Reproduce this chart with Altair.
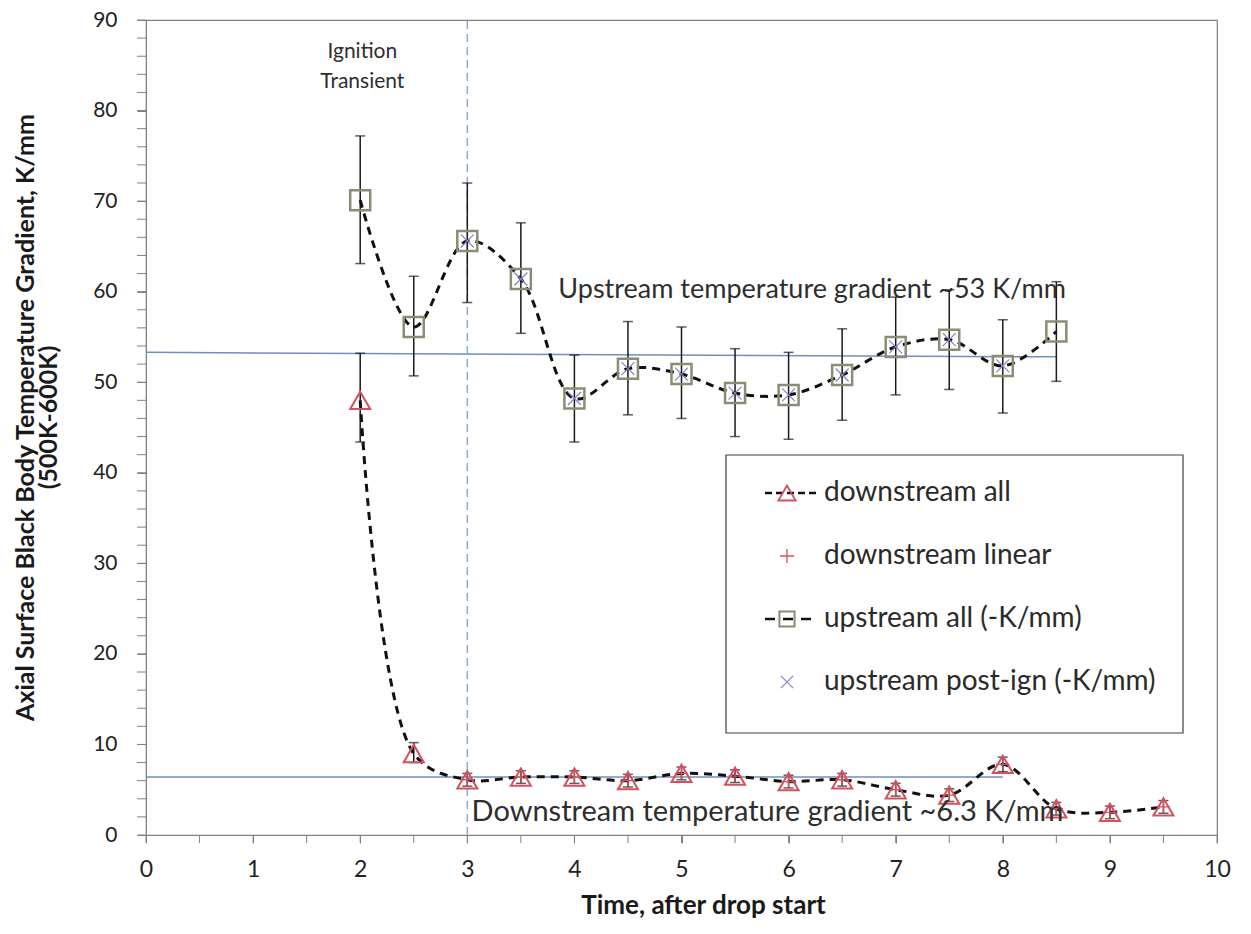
import altair as alt
import pandas as pd

# ---------------- data ----------------
up_x = [2, 2.5, 3, 3.5, 4, 4.5, 5, 5.5, 6, 6.5, 7, 7.5, 8, 8.5]
up_y = [70.1, 56.1, 65.6, 61.4, 48.2, 51.5, 50.9, 48.8, 48.6, 50.8, 53.9, 54.7, 51.8, 55.6]
up_lo = [63.1, 50.7, 58.8, 55.4, 43.4, 46.4, 46.0, 44.0, 43.7, 45.8, 48.6, 49.2, 46.6, 50.1]
up_hi = [77.2, 61.7, 72.0, 67.6, 53.0, 56.7, 56.1, 53.7, 53.3, 55.9, 59.4, 60.2, 56.9, 61.1]

post_x = [3, 3.5, 4, 4.5, 5, 5.5, 6, 6.5, 7, 7.5, 8]
post_y = [65.6, 61.4, 48.2, 51.5, 50.9, 48.8, 48.6, 50.8, 53.9, 54.7, 51.8]

dn_x = [2, 2.5, 3, 3.5, 4, 4.5, 5, 5.5, 6, 6.5, 7, 7.5, 8, 8.5, 9, 9.5]
dn_y = [48.0, 9.0, 6.1, 6.4, 6.4, 6.0, 6.8, 6.5, 5.9, 6.1, 5.0, 4.4, 7.8, 2.9, 2.5, 3.1]
dn_lo = [43.4, 8.0, 5.4, 5.7, 5.7, 5.3, 6.1, 5.8, 5.2, 5.4, 4.3, 3.7, 7.0, 2.2, 1.8, 2.4]
dn_hi = [53.2, 10.2, 6.8, 7.1, 7.1, 6.7, 7.5, 7.2, 6.6, 6.8, 5.7, 5.1, 8.6, 3.6, 3.2, 3.8]

lin_x = [3, 3.5, 4, 4.5, 5, 5.5, 6, 6.5, 7, 7.5, 8, 8.5, 9, 9.5]
lin_y = [6.1, 6.4, 6.4, 6.0, 6.8, 6.5, 5.9, 6.1, 5.0, 4.4, 7.8, 2.9, 2.5, 3.1]

ref_up_x = [0, 8.5]
ref_up_y = [53.3, 52.8]
ref_dn_x = [0, 8.0]
ref_dn_y = [6.4, 6.4]
ign_x = 3

x_major = list(range(0, 11))
x_minor = [i * 0.5 for i in range(21)]
y_major = list(range(0, 91, 10))
y_minor = list(range(0, 91, 2))

legend_labels = ["downstream all", "downstream linear", "upstream all (-K/mm)", "upstream post-ign (-K/mm)"]

ann_text = ["Ignition\nTransient", "Upstream temperature  gradient ~53 K/mm",
            "Downstream temperature  gradient ~6.3 K/mm"]
ann_x = [2.02, 3.85, 3.04]
ann_y = [86.5, 60.2, 2.5]
ann_align = ["center", "left", "left"]
ann_size = [21, 27, 29]

# ---------------- styles ----------------
FONT = "Lato"
RED = "#d4505e"
OLIVE = "#8c8c74"
XBLUE = "#8185c8"
REFBLUE = "#6e8fc2"
AXC = "#808080"
PLUS_PATH = "M-1,0L1,0M0,-1L0,1"
X_PATH = "M-1,-1L1,1M-1,1L1,-1"

up = pd.DataFrame({"x": up_x, "y": up_y, "lo": up_lo, "hi": up_hi})
dn = pd.DataFrame({"x": dn_x, "y": dn_y, "lo": dn_lo, "hi": dn_hi})
post = pd.DataFrame({"x": post_x, "y": post_y})
lin = pd.DataFrame({"x": lin_x, "y": lin_y})
refs = pd.DataFrame({
    "x": ref_up_x + ref_dn_x,
    "y": ref_up_y + ref_dn_y,
    "s": ["up", "up", "dn", "dn"],
})
lines = pd.concat([up.assign(s="up"), dn.assign(s="dn")])
errs = pd.concat([up, dn])
ann = pd.DataFrame({"t": ann_text, "x": ann_x, "y": ann_y, "a": ann_align})

xs = alt.Scale(domain=[0, 10], nice=False, zero=False)
ys = alt.Scale(domain=[0, 90], nice=False)

X = alt.X("x:Q", scale=xs, axis=alt.Axis(
    values=x_major, format="d",
    title="Time, after drop start", titleFont=FONT, titleFontSize=26, titleFontWeight="bold",
    titleColor="#1a1a1a", titleBaseline="middle", titleY=70, titleX=557,
    labelFont=FONT, labelFontSize=23, labelColor="#222", labelPadding=15,
    tickSize=8, tickColor=AXC, domainColor=AXC, grid=False,
    labelFlush=False, labelOverlap=False))
Y = alt.Y("y:Q", scale=ys, axis=alt.Axis(
    values=y_major, format="d",
    title=["Axial Surface Black Body Temperature Gradient, K/mm", "(500K-600K)"],
    titleFont=FONT, titleFontSize=25, titleFontWeight="bold", titleColor="#1a1a1a",
    titleAngle=-90, titleBaseline="middle", titleAlign="center", titleX=-121, titleY=397,
    titleLineHeight=23,
    labelFont=FONT, labelFontSize=21, labelColor="#222", labelPadding=20,
    tickSize=9, tickColor=AXC, domainColor=AXC, grid=False,
    labelFlush=False, labelOverlap=False))

ref_layer = alt.Chart(refs).mark_line(color=REFBLUE, strokeWidth=1.5).encode(
    x=X, y=Y, detail="s:N")

# minor tick marks drawn outside the plot area
ytick = alt.Chart(pd.DataFrame({"v": y_minor})).mark_rule(color=AXC, strokeWidth=1).encode(
    x=alt.value(-9), x2=alt.value(0), y="v:Q")
xtick = alt.Chart(pd.DataFrame({"v": x_minor})).mark_rule(color=AXC, strokeWidth=1).encode(
    x="v:Q", y=alt.value(815), y2=alt.value(823))

vline = alt.Chart(pd.DataFrame({"x": [ign_x], "y": [0], "y2": [90]})).mark_rule(
    color="#8fa9d6", strokeWidth=1.5, strokeDash=[8, 5]).encode(
    x="x:Q", y="y:Q", y2="y2:Q")

err_rule = alt.Chart(errs).mark_rule(color="#1a1a1a", strokeWidth=1.5).encode(
    x="x:Q", y="lo:Q", y2="hi:Q")
cap_lo = alt.Chart(errs).mark_tick(color="#1a1a1a", thickness=1.5, size=10,
                                   orient="horizontal").encode(x="x:Q", y="lo:Q")
cap_hi = alt.Chart(errs).mark_tick(color="#1a1a1a", thickness=1.5, size=10,
                                   orient="horizontal").encode(x="x:Q", y="hi:Q")

curve = alt.Chart(lines).mark_line(color="#111", strokeWidth=3, strokeDash=[8, 6],
                                   interpolate="catmull-rom").encode(
    x="x:Q", y="y:Q", detail="s:N")

sq = alt.Chart(up).mark_point(shape="square", size=400, filled=False, color=OLIVE,
                              strokeWidth=2.5, opacity=1).encode(x="x:Q", y="y:Q")
tri = alt.Chart(dn).mark_point(shape="triangle-up", size=400, filled=False, color=RED,
                               strokeWidth=2, opacity=1).encode(x="x:Q", y="y:Q")
plus = alt.Chart(lin).mark_point(shape=PLUS_PATH, size=180, filled=False, color=RED,
                                 strokeWidth=1.3, opacity=1).encode(x="x:Q", y="y:Q")
xm = alt.Chart(post).mark_point(shape=X_PATH, size=170, filled=False, color=XBLUE,
                                strokeWidth=1.2, opacity=1).encode(x="x:Q", y="y:Q")

ann_layers = []
for t, a, fs in zip(ann_text, ann_align, ann_size):
    ann_layers.append(
        alt.Chart(ann[ann["t"] == t]).mark_text(
            font=FONT, fontSize=fs, color="#2e2e2e", align=a, baseline="middle",
            lineBreak="\n", lineHeight=30).encode(x="x:Q", y="y:Q", text="t:N"))

# ---------------- legend (pixel positions inside the plot area) ----------------
leg_layers = []
one = pd.DataFrame({"a": [0]})
leg_layers.append(alt.Chart(one).mark_rect(fill="white", stroke="#404040", strokeWidth=1.2).encode(
    x=alt.value(580), x2=alt.value(1037), y=alt.value(435), y2=alt.value(713)))
leg_y = [473, 536, 599, 662]
leg_shape = ["triangle-up", PLUS_PATH, "square", X_PATH]
leg_color = [RED, RED, OLIVE, XBLUE]
leg_size = [300, 200, 230, 150]
leg_sw = [1.8, 1.3, 2, 1.2]
leg_dash = [[7, 4], None, [10, 8], None]
for lab, yy, shp, col, sz, sw, dsh in zip(legend_labels, leg_y, leg_shape, leg_color,
                                          leg_size, leg_sw, leg_dash):
    if dsh is not None:
        leg_layers.append(alt.Chart(one).mark_rule(color="#111", strokeWidth=2.5,
                                                   strokeDash=dsh).encode(
            x=alt.value(619), x2=alt.value(673), y=alt.value(yy)))
    leg_layers.append(alt.Chart(one).mark_point(shape=shp, size=sz, filled=False, color=col,
                                                strokeWidth=sw, opacity=1).encode(
        x=alt.value(641), y=alt.value(yy)))
    leg_layers.append(alt.Chart(pd.DataFrame({"t": [lab]})).mark_text(
        font=FONT, fontSize=28, color="#2a2a2a", align="left", baseline="middle").encode(
        x=alt.value(678), y=alt.value(yy), text="t:N"))

chart = alt.layer(
    ref_layer, ytick, xtick, vline, err_rule, cap_lo, cap_hi, curve, sq, tri, plus, xm,
    *ann_layers, *leg_layers
).properties(
    width=1071, height=815,
    autosize=alt.AutoSizeParams(type="none"),
    padding={"left": 138, "top": 12, "right": 26, "bottom": 91},
    background="white",
).configure_view(stroke="#808080", strokeWidth=1.2)

chart.save("out.html", embed_options={"renderer": "svg", "actions": False})
